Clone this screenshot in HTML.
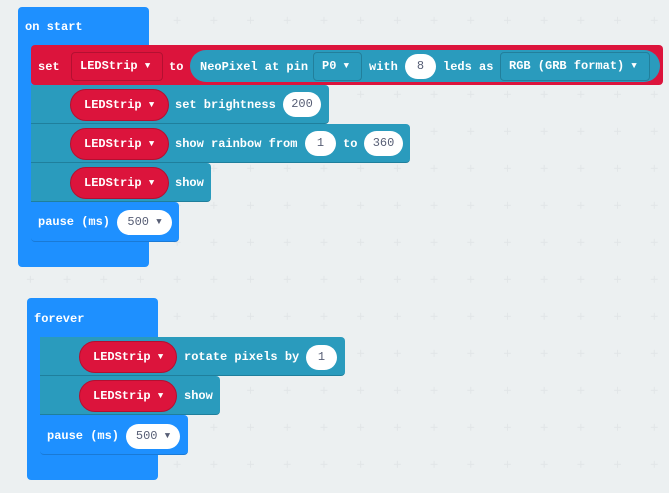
<!DOCTYPE html>
<html><head><meta charset="utf-8"><style>
html,body{margin:0;padding:0;}
body{width:669px;height:493px;overflow:hidden;background:#ecf0f1;position:relative;font-family:"Liberation Mono","DejaVu Sans Mono",monospace;font-weight:bold;font-size:12px;color:#fff;}
.a{position:absolute;box-sizing:border-box;}
.t{position:absolute;white-space:pre;line-height:14px;}
.blue{background:#1e90ff;}
.teal{background:#2a9bbd;border-bottom:1px solid #1f7f9c;}
.red{background:#dc143c;}
.wpill{position:absolute;background:#fff;border-radius:14px;color:#575e75;font-weight:normal;text-align:center;line-height:25px;height:25px;box-sizing:border-box;white-space:nowrap;}
.dd{position:absolute;box-sizing:border-box;border:1px solid rgba(0,0,0,0.18);border-radius:4px;line-height:27px;height:29px;padding-left:8px;white-space:nowrap;}
.rp{position:absolute;background:#dc143c;border-radius:16px;height:32px;line-height:30px;box-sizing:border-box;border:1px solid #b40f30;padding-left:13px;white-space:nowrap;}
.ar{font-size:9px;vertical-align:1px;}
</style></head><body>
<svg class="a" style="left:0;top:0" width="669" height="493">
<defs><pattern id="g" x="15" y="16.8" width="36.7" height="37" patternUnits="userSpaceOnUse">
<path d="M15.35 0v7M11.85 3.5h7" stroke="#e1e5e7" stroke-width="1"/></pattern></defs>
<rect width="669" height="493" fill="url(#g)"/>
</svg>

<!-- on start -->
<div class="a blue" style="left:18px;top:7px;width:131px;height:260px;border-radius:4px;"></div>
<div class="t" style="left:25px;top:20px;">on start</div>

<div class="a red" style="left:31px;top:45px;width:632px;height:40px;border-radius:4px;"></div>
<div class="t" style="left:38px;top:60px;">set</div>
<div class="dd" style="left:71px;top:52px;width:92px;">LEDStrip <span class="ar">▼</span></div>
<div class="t" style="left:169px;top:60px;">to</div>
<div class="a" style="left:190px;top:50px;width:470px;height:32px;border-radius:16px;background:#2a9bbd;"></div>
<div class="t" style="left:200px;top:60px;">NeoPixel at pin</div>
<div class="dd" style="left:313px;top:52px;width:49px;">P0 <span class="ar">▼</span></div>
<div class="t" style="left:369px;top:60px;">with</div>
<div class="wpill" style="left:405px;top:54px;width:31px;">8</div>
<div class="t" style="left:443px;top:60px;">leds as</div>
<div class="dd" style="left:500px;top:52px;width:150px;">RGB (GRB format) <span class="ar">▼</span></div>

<div class="a teal" style="left:31px;top:85px;width:298px;height:39px;border-radius:0 4px 4px 0;"></div>
<div class="rp" style="left:70px;top:89px;width:99px;">LEDStrip <span class="ar">▼</span></div>
<div class="t" style="left:175px;top:98px;">set brightness</div>
<div class="wpill" style="left:283px;top:92px;width:38px;">200</div>

<div class="a teal" style="left:31px;top:124px;width:379px;height:39px;border-radius:0 4px 4px 0;"></div>
<div class="rp" style="left:70px;top:128px;width:99px;">LEDStrip <span class="ar">▼</span></div>
<div class="t" style="left:175px;top:137px;">show rainbow from</div>
<div class="wpill" style="left:305px;top:131px;width:31px;">1</div>
<div class="t" style="left:343px;top:137px;">to</div>
<div class="wpill" style="left:364px;top:131px;width:39px;">360</div>

<div class="a teal" style="left:31px;top:163px;width:180px;height:39px;border-radius:0 4px 4px 0;"></div>
<div class="rp" style="left:70px;top:167px;width:99px;">LEDStrip <span class="ar">▼</span></div>
<div class="t" style="left:175px;top:176px;">show</div>

<div class="a blue" style="left:31px;top:202px;width:148px;height:40px;border-radius:4px;border-bottom:1px solid #1a7ad6;"></div>
<div class="t" style="left:38px;top:215px;">pause (ms)</div>
<div class="wpill" style="left:117px;top:210px;width:55px;">500 <span class="ar">▼</span></div>

<!-- forever -->
<div class="a blue" style="left:27px;top:298px;width:131px;height:182px;border-radius:4px;"></div>
<div class="t" style="left:34px;top:312px;">forever</div>

<div class="a teal" style="left:40px;top:337px;width:305px;height:39px;border-radius:0 4px 4px 0;"></div>
<div class="rp" style="left:79px;top:341px;width:98px;">LEDStrip <span class="ar">▼</span></div>
<div class="t" style="left:184px;top:350px;">rotate pixels by</div>
<div class="wpill" style="left:306px;top:345px;width:31px;">1</div>

<div class="a teal" style="left:40px;top:376px;width:180px;height:39px;border-radius:0 4px 4px 0;"></div>
<div class="rp" style="left:79px;top:380px;width:98px;">LEDStrip <span class="ar">▼</span></div>
<div class="t" style="left:184px;top:389px;">show</div>

<div class="a blue" style="left:40px;top:415px;width:148px;height:40px;border-radius:4px;border-bottom:1px solid #1a7ad6;"></div>
<div class="t" style="left:47px;top:429px;">pause (ms)</div>
<div class="wpill" style="left:126px;top:424px;width:54px;">500 <span class="ar">▼</span></div>
</body></html>
